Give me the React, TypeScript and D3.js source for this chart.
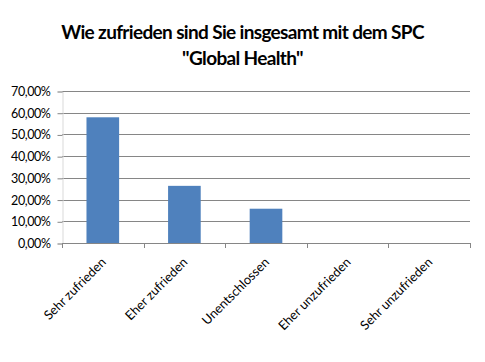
import React, { useEffect, useRef } from 'react'
import * as d3 from 'd3'

const categories = ['Sehr zufrieden', 'Eher zufrieden', 'Unentschlossen', 'Eher unzufrieden', 'Sehr unzufrieden']
const values = [0.5789, 0.2632, 0.1579, 0, 0]
const yTicks = [0, 0.1, 0.2, 0.3, 0.4, 0.5, 0.6, 0.7]
const titleLines = ['Wie zufrieden sind Sie insgesamt mit dem SPC', '"Global Health"']

const W = 485, H = 362
const FONT = 'Lato, Calibri, sans-serif'

export default function App() {
  const ref = useRef<SVGSVGElement>(null)

  useEffect(() => {
    const svg = d3.select(ref.current)
    svg.selectAll('*').remove()

    const margin = { top: 91, right: 15, bottom: 119, left: 62 }
    const x = d3.scaleBand().domain(categories).range([margin.left, W - margin.right]).paddingInner(0.6).paddingOuter(0.3)
    const y = d3.scaleLinear().domain([0, 0.7]).range([H - margin.bottom, margin.top])
    const fmt = (v: number) => (v * 100).toFixed(2).replace('.', ',') + '%'

    svg.append('rect').attr('x', 1).attr('y', 1).attr('width', W - 2).attr('height', H - 2)
      .attr('fill', '#fff').attr('stroke', '#868686').attr('stroke-width', 2)

    const t = svg.append('text').attr('text-anchor', 'middle').attr('font-family', FONT)
      .attr('font-weight', 'bold').attr('font-size', 19).attr('letter-spacing', -0.65).attr('fill', '#000')
    titleLines.forEach((l, i) => t.append('tspan').attr('x', W / 2).attr('y', 39 + i * 26).text(l))

    // gridlines
    svg.append('g').selectAll('line').data(yTicks.slice(1)).join('line')
      .attr('x1', margin.left).attr('x2', W - margin.right)
      .attr('y1', d => Math.round(y(d)) + 0.5).attr('y2', d => Math.round(y(d)) + 0.5)
      .attr('stroke', '#868686').attr('stroke-width', 1)

    // bars
    svg.append('g').selectAll('rect').data(values).join('rect')
      .attr('x', (d, i) => x(categories[i])!)
      .attr('width', x.bandwidth())
      .attr('y', d => y(d))
      .attr('height', d => y(0) - y(d))
      .attr('fill', '#4f81bd')

    // y axis
    const ya = svg.append('g').attr('transform', `translate(${margin.left + 0.5},0.5)`)
      .call(d3.axisLeft(y).tickValues(yTicks).tickFormat(d => fmt(d as number)).tickSize(5).tickPadding(7))
    ya.select('.domain').attr('stroke', '#d9d9d9')
    ya.selectAll('.tick line').attr('stroke', '#868686')
    ya.selectAll('text').attr('font-family', FONT).attr('font-size', 12.5).attr('letter-spacing', -0.4).attr('fill', '#000')

    // x axis
    const tickPos = d3.range(categories.length + 1).map(i => margin.left + i * (W - margin.right - margin.left) / categories.length)
    const xa = svg.append('g')
    xa.append('line').attr('x1', margin.left).attr('x2', W - margin.right)
      .attr('y1', Math.round(y(0)) + 0.5).attr('y2', Math.round(y(0)) + 0.5).attr('stroke', '#868686')
    xa.selectAll('line.tk').data(tickPos).join('line').attr('class', 'tk')
      .attr('x1', d => Math.round(d) + 0.5).attr('x2', d => Math.round(d) + 0.5)
      .attr('y1', y(0)).attr('y2', y(0) + 5).attr('stroke', '#868686')
    xa.selectAll('text').data(categories).join('text')
      .attr('transform', d => `translate(${x(d)! + x.bandwidth() / 2 + 4},${y(0) + 20}) rotate(-45)`)
      .attr('text-anchor', 'end').attr('font-family', FONT).attr('font-size', 12.8).attr('fill', '#000')
      .text(d => d)
  }, [])

  return (
    <div style={{ margin: -8 }}>
      <svg ref={ref} width={W} height={H} style={{ display: 'block' }} />
    </div>
  )
}
